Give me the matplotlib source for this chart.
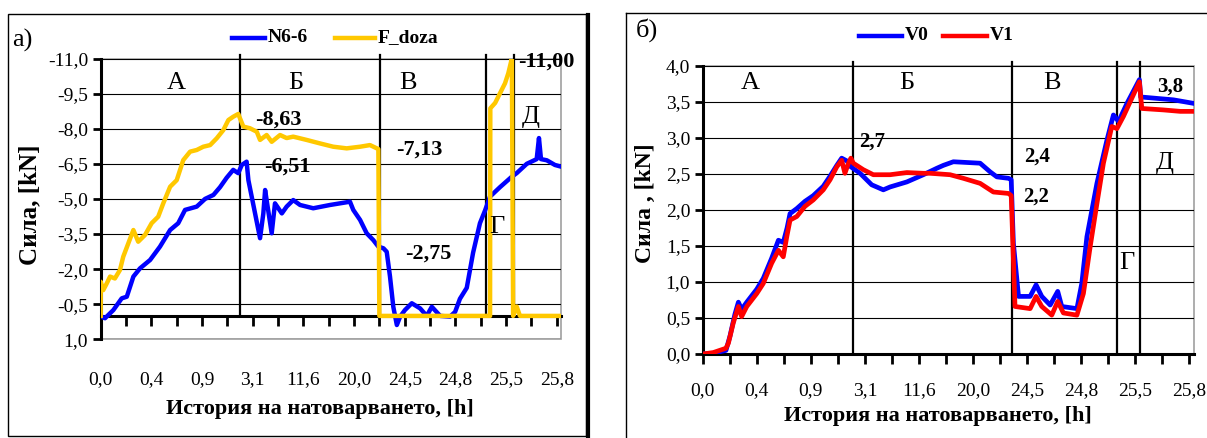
import matplotlib
matplotlib.use("Agg")
import matplotlib.pyplot as plt
from matplotlib.lines import Line2D
from matplotlib.patches import Rectangle

plt.rcParams['font.family'] = ['Liberation Serif', 'DejaVu Serif']

W, H = 1207, 438

# x-axis: sample position in tick units, labels on every second tick
time_labels = ["0,0", "0,4", "0,9", "3,1", "11,6", "20,0", "24,5", "24,8", "25,5", "25,8"]
x_end = 18.17

# --- а) N6-6 and F_doza, kN ---
n66_x = [0.0, 0.10, 0.17, 0.50, 0.83, 1.03, 1.29, 1.55, 1.95, 2.34, 2.74, 3.06, 3.33,
         3.79, 4.12, 4.45, 4.71, 4.97, 5.23, 5.43, 5.57, 5.76, 5.83, 6.29, 6.42, 6.49,
         6.55, 6.75, 6.88, 7.15, 7.34, 7.60, 7.87, 8.39, 9.05, 9.84, 9.97, 10.24, 10.50,
         10.76, 10.96, 11.16, 11.29, 11.42, 11.55, 11.69, 11.82, 12.01, 12.28, 12.61,
         12.87, 13.07, 13.40, 13.79, 13.99, 14.18, 14.45, 14.70, 14.97, 15.17, 15.37,
         15.76, 16.23, 16.42, 16.82, 17.21, 17.30, 17.38, 17.61, 17.93, 18.17]
n66_y = [0.0, 0.07, 0.10, -0.25, -0.75, -0.82, -1.68, -2.03, -2.39, -2.96, -3.67, -3.96,
         -4.53, -4.67, -5.00, -5.17, -5.50, -5.90, -6.24, -6.10, -6.45, -6.59, -5.80,
         -3.32, -4.38, -5.38, -4.95, -3.53, -4.81, -4.38, -4.67, -4.95, -4.74, -4.60,
         -4.74, -4.88, -4.53, -4.10, -3.53, -3.24, -2.96, -2.89, -2.74, -1.68, -0.39,
         0.39, 0.03, -0.25, -0.54, -0.32, 0.0, -0.39, 0.0, 0.03, -0.17, -0.73, -1.20,
         -2.70, -3.96, -4.50, -5.10, -5.50, -5.95, -6.10, -6.50, -6.70, -7.60, -6.70,
         -6.65, -6.45, -6.38]

fdoza_x = [0.0, 0.0, 0.10, 0.24, 0.37, 0.56, 0.76, 0.89, 1.09, 1.29, 1.48, 1.75, 2.01,
           2.27, 2.47, 2.74, 3.00, 3.26, 3.53, 3.79, 4.05, 4.32, 4.58, 4.84, 5.04, 5.23,
           5.43, 5.50, 5.63, 5.89, 6.16, 6.29, 6.55, 6.75, 7.08, 7.34, 7.60, 8.13, 8.66,
           9.18, 9.71, 10.24, 10.63, 10.96, 11.00, 15.37, 15.38, 15.57, 15.76, 15.96,
           16.09, 16.23, 16.28, 16.42, 16.55, 18.17]
fdoza_y = [0.0, -1.46, -1.10, -1.39, -1.68, -1.60, -1.96, -2.53, -3.10, -3.67, -3.17,
           -3.46, -3.96, -4.24, -4.81, -5.52, -5.80, -6.66, -7.02, -7.09, -7.23, -7.30,
           -7.59, -7.94, -8.37, -8.51, -8.63, -8.44, -8.09, -8.02, -7.87, -7.52, -7.73,
           -7.44, -7.73, -7.60, -7.66, -7.52, -7.37, -7.23, -7.16, -7.23, -7.30, -7.13,
           0.0, 0.0, -8.87, -9.10, -9.51, -9.94, -10.37, -11.00, 0.0, -0.40, 0.0, 0.0]

a_bounds = [5.50, 11.02, 15.20, 16.32]
a_yticks = [-11.0, -9.5, -8.0, -6.5, -5.0, -3.5, -2.0, -0.5, 1.0]
# value labels: (x, y, text)
a_values = [(7.00, -8.37, "-8,63"), (7.37, -6.38, "-6,51"), (12.57, -7.09, "-7,13"),
            (12.93, -2.68, "-2,75")]
a_sections = [(2.97, -9.95, "А"), (7.71, -9.95, "Б"), (12.13, -9.95, "В"),
              (15.65, -3.80, "Г"), (16.98, -8.50, "Д")]

# --- б) V0 and V1, kN ---
v0_x = [0.0, 0.39, 0.86, 1.01, 1.19, 1.32, 1.44, 1.63, 2.00, 2.24, 2.55, 2.80, 2.98,
        3.12, 3.23, 3.48, 3.78, 4.09, 4.46, 4.71, 4.96, 5.14, 5.34, 5.48, 5.82, 6.25,
        6.68, 6.93, 7.55, 8.16, 8.66, 8.90, 9.27, 10.26, 10.63, 10.88, 11.31, 11.41,
        11.49, 11.68, 12.11, 12.33, 12.54, 12.85, 13.13, 13.28, 13.84, 14.02, 14.21,
        14.58, 14.95, 15.19, 15.38, 15.69, 16.15, 16.20, 16.80, 17.41, 18.17]
v0_y = [0.0, 0.01, 0.05, 0.25, 0.55, 0.72, 0.62, 0.72, 0.90, 1.05, 1.33, 1.58, 1.55,
        1.75, 1.95, 2.02, 2.12, 2.20, 2.33, 2.47, 2.62, 2.72, 2.68, 2.60, 2.51, 2.35,
        2.28, 2.32, 2.39, 2.49, 2.58, 2.62, 2.67, 2.65, 2.53, 2.46, 2.44, 2.42, 1.54,
        0.80, 0.80, 0.96, 0.80, 0.68, 0.87, 0.66, 0.63, 0.98, 1.63, 2.37, 2.97, 3.32,
        3.23, 3.48, 3.81, 3.57, 3.55, 3.53, 3.48]

v1_x = [0.0, 0.39, 0.86, 0.95, 1.13, 1.32, 1.44, 1.63, 2.00, 2.24, 2.55, 2.80, 2.98,
        3.11, 3.23, 3.48, 3.78, 4.09, 4.46, 4.71, 4.96, 5.14, 5.26, 5.39, 5.48, 5.57,
        5.94, 6.31, 6.93, 7.55, 8.16, 8.41, 9.15, 9.64, 10.26, 10.75, 11.31, 11.41,
        11.55, 12.11, 12.33, 12.54, 12.91, 13.13, 13.34, 13.84, 14.08, 14.33, 14.58,
        14.82, 15.13, 15.32, 15.56, 16.15, 16.24, 17.04, 17.66, 18.17]
v1_y = [0.0, 0.02, 0.08, 0.15, 0.43, 0.66, 0.52, 0.66, 0.84, 0.98, 1.26, 1.44, 1.35,
        1.63, 1.86, 1.91, 2.05, 2.14, 2.28, 2.42, 2.60, 2.69, 2.51, 2.65, 2.72, 2.65,
        2.56, 2.49, 2.49, 2.52, 2.51, 2.51, 2.49, 2.44, 2.37, 2.25, 2.23, 2.20, 0.66,
        0.63, 0.80, 0.66, 0.54, 0.73, 0.57, 0.54, 0.84, 1.49, 2.09, 2.65, 3.16, 3.13,
        3.30, 3.78, 3.41, 3.39, 3.37, 3.37]

b_bounds = [5.55, 11.43, 15.34, 16.18]
b_yticks = [0.0, 0.5, 1.0, 1.5, 2.0, 2.5, 3.0, 3.5, 4.0]
b_values = [(6.25, 2.95, "2,7"), (12.36, 2.74, "2,4"), (12.33, 2.18, "2,2"),
            (17.29, 3.72, "3,8")]
b_sections = [(1.75, 3.76, "А"), (7.55, 3.76, "Б"), (12.91, 3.76, "В"),
              (15.69, 1.26, "Г"), (17.08, 2.65, "Д")]

BLUE, GOLD, RED = "#0000ff", "#ffc800", "#ff0000"


def fx(px):
    return px / W


def fy(py):
    return 1 - py / H


def comma(v):
    return f"{v:.1f}".replace(".", ",")


def setup(ax, yticks, ylim, label_pad):
    ax.set_xlim(0, x_end)
    ax.set_ylim(*ylim)
    ax.set_yticks(yticks)
    ax.set_yticklabels([comma(v) for v in yticks])
    ax.set_xticks(range(19))
    ax.set_xticklabels([time_labels[i // 2] if i % 2 == 0 else "" for i in range(19)])
    ax.yaxis.grid(True, color="black", lw=0.8)
    ax.set_axisbelow(True)
    for s in ("top", "right"):
        ax.spines[s].set_visible(False)
    ax.spines["left"].set_linewidth(2.2)
    ax.spines["bottom"].set_linewidth(2.2)
    ax.spines["bottom"].set_position(("data", 0))
    ax.spines["bottom"].set_zorder(1)
    ax.add_patch(Rectangle((0, 0), 1, 1, transform=ax.transAxes, fill=False,
                           ec="#a0a0a0", lw=1.2, zorder=0.5, clip_on=False))
    ax.tick_params(axis="y", direction="out", length=6, width=2, labelsize=14, pad=3)
    ax.tick_params(axis="x", direction="out", length=7, width=2, labelsize=14,
                   pad=label_pad)


fig = plt.figure(figsize=(W / 100, H / 100), dpi=100)

# panel frames
fig.add_artist(Rectangle((fx(8), fy(436)), fx(586) - fx(8), fy(14) - fy(436),
                         transform=fig.transFigure, fill=False, ec="black", lw=1))
fig.add_artist(Line2D([fx(588), fx(588)], [fy(15), fy(437)], color="black", lw=3))
fig.add_artist(Line2D([fx(626), fx(626)], [fy(13), fy(438)], color="black", lw=1))
fig.add_artist(Line2D([fx(626), fx(1207)], [fy(13), fy(13)], color="black", lw=1))

# ---- а) ----
ax1 = fig.add_axes([fx(100.7), fy(339.3), fx(561) - fx(100.7), fy(58.5) - fy(339.3)])
setup(ax1, a_yticks, (1.0, -11.0), 33)
for b in a_bounds:
    ax1.plot([b, b], [0, -11.15], color="black", lw=1.6, zorder=2, clip_on=False)
ax1.plot(n66_x, n66_y, color=BLUE, lw=3.2, zorder=3, solid_joinstyle="round")
ax1.plot(fdoza_x, fdoza_y, color=GOLD, lw=3.2, zorder=4, solid_joinstyle="round")
for x, y, t in a_values:
    ax1.text(x, y, t, ha="center", va="center", fontsize=16, fontweight="bold", zorder=5)
ax1.text(16.48, -10.86, "-11,00", ha="left", va="center", fontsize=16,
         fontweight="bold", zorder=5, clip_on=False)
for x, y, t in a_sections:
    ax1.text(x, y, t, ha="center", va="center", fontsize=19, zorder=5)

# ---- б) ----
ax2 = fig.add_axes([fx(702.7), fy(354), fx(1194) - fx(702.7), fy(66) - fy(354)])
setup(ax2, b_yticks, (0.0, 4.0), 13)
for b in b_bounds:
    ax2.plot([b, b], [0, 4.05], color="black", lw=1.6, zorder=2, clip_on=False)
ax2.plot(v0_x, v0_y, color=BLUE, lw=3.4, zorder=3, solid_joinstyle="round")
ax2.plot(v1_x, v1_y, color=RED, lw=3.4, zorder=4, solid_joinstyle="round")
for x, y, t in b_values:
    ax2.text(x, y, t, ha="center", va="center", fontsize=15, fontweight="bold", zorder=5)
for x, y, t in b_sections:
    ax2.text(x, y, t, ha="center", va="center", fontsize=19, zorder=5)

# axis titles
fig.text(fx(30), fy(205), "Сила, [kN]", rotation=90, ha="center", va="center",
         fontsize=18, fontweight="bold")
fig.text(fx(645), fy(203), "Сила , [kN]", rotation=90, ha="center", va="center",
         fontsize=17, fontweight="bold")
fig.text(fx(320), fy(409), "История на натоварването, [h]", ha="center", va="center",
         fontsize=16, fontweight="bold")
fig.text(fx(938), fy(416), "История на натоварването, [h]", ha="center", va="center",
         fontsize=16, fontweight="bold")

# panel letters
fig.text(fx(12), fy(40), "а)", ha="left", va="center", fontsize=19)
fig.text(fx(636), fy(30), "б)", ha="left", va="center", fontsize=19)

# legends
def legend_item(x0, x1, y, color, text):
    fig.add_artist(Line2D([fx(x0), fx(x1)], [fy(y), fy(y)], color=color, lw=3.2))
    fig.text(fx(x1 + 3), fy(y), text, ha="left", va="center", fontsize=14,
             fontweight="bold")

legend_item(232, 265, 38, BLUE, "N6-6")
legend_item(335, 375, 38, GOLD, "F_doza")
legend_item(859, 902, 36, BLUE, "V0")
legend_item(943, 987, 36, RED, "V1")

fig.savefig("out.png", dpi=100)
